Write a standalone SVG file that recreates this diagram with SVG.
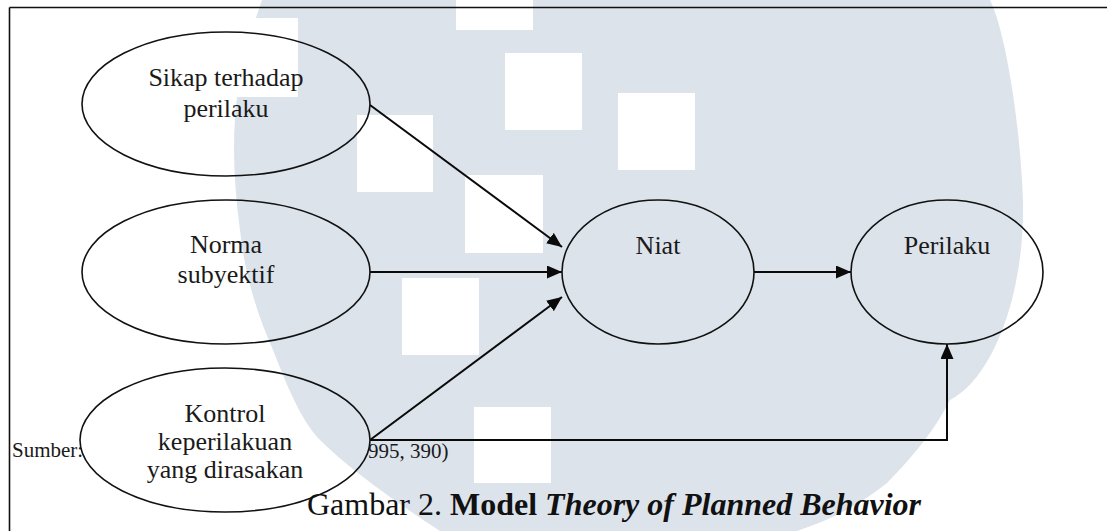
<svg xmlns="http://www.w3.org/2000/svg" width="1107" height="531" viewBox="0 0 1107 531">
  <style>
    .node ellipse { fill: none; stroke: #111; stroke-width: 1.6; }
    .lbl { font-family: "Liberation Serif", "Times New Roman", serif; font-size: 26px; fill: #1a1a1a; text-anchor: middle; }
    .src { font-family: "Liberation Serif", "Times New Roman", serif; font-size: 21px; fill: #1a1a1a; }
    .cap { font-family: "Liberation Serif", "Times New Roman", serif; font-size: 32px; fill: #111; text-anchor: middle; }
    .conn { fill: none; stroke: #0a0a0a; stroke-width: 2; }
    .sq { fill: #ffffff; }
  </style>
  <defs>
    <marker id="arr" viewBox="0 0 15 13" refX="15" refY="6.5" markerWidth="15" markerHeight="13" markerUnits="userSpaceOnUse" orient="auto">
      <path d="M0,0 L15,6.5 L0,13 z" fill="#0a0a0a"/>
    </marker>
    <clipPath id="kclip">
      <rect x="0" y="0" width="1107" height="483"/>
    </clipPath>
  </defs>

  <rect x="0" y="0" width="1107" height="531" fill="#ffffff"/>

  <g id="watermark">
    <path d="M262,0 L990,0 C1005,30 1020,120 1023,200 C1025,300 990,380 950,400 C935,430 910,460 887,483 C860,505 830,520 797,531 L440,531 C400,505 350,470 320,440 C300,420 285,380 273,350 C260,320 245,280 240,230 C233,180 232,130 238,90 C245,50 255,20 262,0 Z" fill="#dce3eb"/>
    <rect class="sq" x="221" y="18" width="77" height="79"/>
    <rect class="sq" x="456" y="-46" width="77" height="76"/>
    <rect class="sq" x="505" y="53" width="77" height="77"/>
    <rect class="sq" x="618" y="93" width="77" height="77"/>
    <rect class="sq" x="357" y="115" width="76" height="77"/>
    <rect class="sq" x="465" y="175" width="78" height="78"/>
    <rect class="sq" x="402" y="278" width="77" height="77"/>
    <rect class="sq" x="474" y="407" width="77" height="76"/>
  </g>

  <g id="frame" fill="none" stroke="#111" stroke-width="1.6">
    <line x1="9.5" y1="7.5" x2="1107" y2="7.5"/>
    <line x1="9.5" y1="7.5" x2="9.5" y2="531"/>
  </g>

  <g id="connectors">
    <line class="conn" x1="370" y1="105" x2="562" y2="247" marker-end="url(#arr)"/>
    <line class="conn" x1="370" y1="272" x2="562" y2="272" marker-end="url(#arr)"/>
    <line class="conn" x1="370" y1="440" x2="562" y2="297" marker-end="url(#arr)"/>
    <line class="conn" x1="754" y1="272" x2="851" y2="272" marker-end="url(#arr)"/>
    <polyline class="conn" points="370,440 947,440 947,344" stroke-width="1.8" marker-end="url(#arr)"/>
  </g>

  <g id="sikap" class="node">
    <ellipse cx="226" cy="104" rx="144" ry="72"/>
    <text class="lbl" x="226" y="86">Sikap terhadap</text>
    <text class="lbl" x="226" y="117">perilaku</text>
  </g>

  <g id="norma" class="node">
    <ellipse cx="226" cy="272" rx="144" ry="72"/>
    <text class="lbl" x="226" y="253">Norma</text>
    <text class="lbl" x="226" y="283">subyektif</text>
  </g>

  <g id="kontrol" class="node">
    <ellipse cx="225" cy="440" rx="145" ry="72"/>
    <text class="lbl" x="225" y="422">Kontrol</text>
    <text class="lbl" x="225" y="450">keperilakuan</text>
    <text class="lbl" x="225" y="478" clip-path="url(#kclip)">yang dirasakan</text>
  </g>

  <g id="niat" class="node">
    <ellipse cx="658" cy="272" rx="96" ry="72"/>
    <text class="lbl" x="658" y="254">Niat</text>
  </g>

  <g id="perilaku" class="node">
    <ellipse cx="947" cy="272" rx="96" ry="72"/>
    <text class="lbl" x="947" y="254">Perilaku</text>
  </g>

  <g id="source">
    <text class="src" x="12" y="457">Sumber:</text>
    <text class="src" x="368" y="458">995, 390)</text>
  </g>

  <g id="caption">
    <text class="cap" x="614" y="515">Gambar 2. <tspan font-weight="bold">Model </tspan><tspan font-weight="bold" font-style="italic">Theory of Planned Behavior</tspan></text>
  </g>
</svg>
